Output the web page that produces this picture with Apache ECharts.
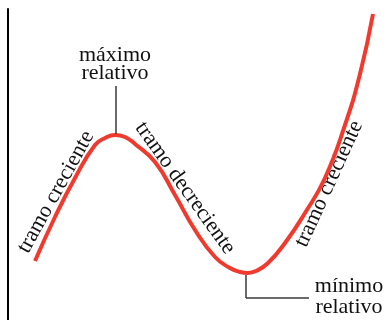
<!DOCTYPE html>
<html>
<head>
<meta charset="utf-8">
<script src="https://cdn.jsdelivr.net/npm/echarts@6/dist/echarts.min.js"></script>
<style>
  html, body { margin: 0; padding: 0; background: #fff; }
  #chart { width: 389px; height: 320px; }
</style>
</head>
<body>
<div id="chart"></div>
<script>
// curve (x to the right, height upwards)
var curveX = [35, 55, 75, 95, 105, 115, 125, 135, 155, 175, 195, 215, 230, 240, 248, 256, 268, 285, 305, 325, 345, 360, 373];
var curveY = [59, 103, 142, 175, 182, 185, 183, 176, 158, 125, 90, 63, 52, 48, 47, 49, 57, 77, 107, 142, 195, 246, 306];

var maxLabel = ['máximo', 'relativo'];
var minLabel = ['mínimo', 'relativo'];
var rangeLabels = ['tramo creciente', 'tramo decreciente', 'tramo creciente'];

var FONT = '"Liberation Serif", "DejaVu Serif", serif';
var RED = '#f03a2e';
var INK = '#3a3a3a';

var points = curveX.map(function(x, i) {
  return [x, curveY[i]];
});

// relative max = highest point of the first hump, relative min = lowest after it
var iMax = curveY.indexOf(Math.max.apply(null, curveY.slice(0, 10)));
var iMin = curveY.indexOf(Math.min.apply(null, curveY.slice(iMax)));
var peak = points[iMax];
var valley = points[iMin];

var chart = echarts.init(document.getElementById('chart'));

function label(text, x, y, rot, lh) {
  return {
    type: 'text',
    x: x,
    y: y,
    rotation: (rot || 0) * Math.PI / 180,
    style: {
      text: text,
      fontFamily: FONT,
      fontSize: 22,
      lineHeight: lh || 22,
      fill: '#111',
      align: 'center',
      verticalAlign: 'middle'
    }
  };
}

chart.setOption({
  animation: false,
  grid: { left: 8, right: 0, top: 9, bottom: 0 },
  xAxis: {
    type: 'value',
    min: 8,
    max: 389,
    show: false
  },
  yAxis: {
    type: 'value',
    min: 0,
    max: 311,
    axisLine: { show: true, lineStyle: { color: '#000', width: 2 } },
    axisTick: { show: false },
    axisLabel: { show: false },
    splitLine: { show: false }
  },
  series: [{
    type: 'line',
    data: points,
    smooth: 0.5,
    symbol: 'none',
    lineStyle: { color: RED, width: 4 },
    markLine: {
      silent: true,
      symbol: 'none',
      label: { show: false },
      lineStyle: { color: INK, width: 1.5, type: 'solid' },
      data: [
        [{ coord: [peak[0] + 1, peak[1] + 1] }, { coord: [peak[0] + 1, peak[1] + 49] }],
        [{ coord: [valley[0] - 2, valley[1] - 2] }, { coord: [valley[0] - 2, valley[1] - 25] }],
        [{ coord: [valley[0] - 2, valley[1] - 25] }, { coord: [valley[0] + 61, valley[1] - 25] }]
      ]
    }
  }],
  graphic: [
    label(maxLabel.join('\n'), 115, 64, 0, 18),
    label(minLabel.join('\n'), 349, 297, 0, 21),
    label(rangeLabels[0], 56, 192, 61),
    label(rangeLabels[1], 185, 188, -54.5),
    label(rangeLabels[2], 329, 184, 65.5)
  ]
});
</script>
</body>
</html>
